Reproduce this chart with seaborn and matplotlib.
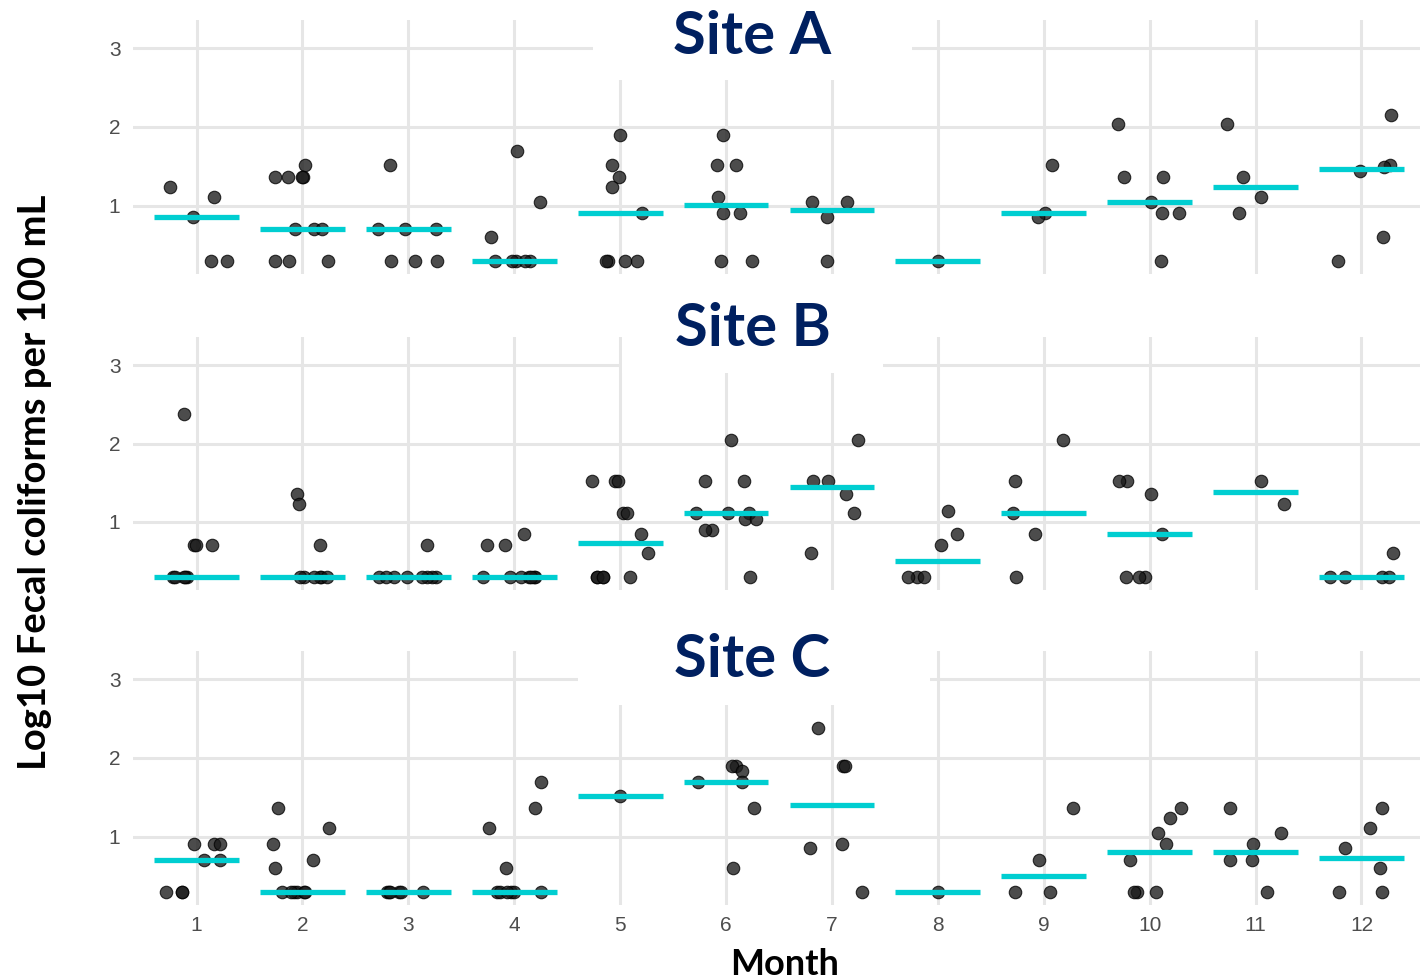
import numpy as np
import pandas as pd
import matplotlib
matplotlib.use("Agg")
import matplotlib.pyplot as plt
from matplotlib.patches import Rectangle
import seaborn as sns

# ---------------- data ----------------
months = [1, 2, 3, 4, 5, 6, 7, 8, 9, 10, 11, 12]
site_names = ["Site A", "Site B", "Site C"]

# log10 fecal coliforms per 100 mL, one list per month
site_a = [
    [1.23, 1.11, 0.85, 0.30, 0.30],
    [1.52, 1.36, 1.36, 1.36, 1.36, 0.70, 0.70, 0.70, 0.30, 0.30, 0.30],
    [1.52, 0.70, 0.70, 0.70, 0.30, 0.30, 0.30],
    [1.69, 1.04, 0.60, 0.30, 0.30, 0.30, 0.30, 0.30],
    [1.90, 1.52, 1.36, 1.23, 0.90, 0.30, 0.30, 0.30, 0.30],
    [1.90, 1.52, 1.52, 1.11, 0.90, 0.90, 0.30, 0.30],
    [1.04, 1.04, 0.85, 0.30],
    [0.30],
    [1.52, 0.90, 0.85],
    [2.04, 1.36, 1.36, 1.04, 0.90, 0.90, 0.30],
    [2.04, 1.36, 1.11, 0.90],
    [2.15, 1.52, 1.49, 1.44, 0.60, 0.30],
]
site_b = [
    [2.38, 0.70, 0.70, 0.70, 0.30, 0.30, 0.30, 0.30, 0.30],
    [1.36, 1.23, 0.70, 0.30, 0.30, 0.30, 0.30, 0.30, 0.30],
    [0.70, 0.30, 0.30, 0.30, 0.30, 0.30, 0.30, 0.30, 0.30],
    [0.85, 0.70, 0.70, 0.30, 0.30, 0.30, 0.30, 0.30, 0.30, 0.30],
    [1.52, 1.52, 1.52, 1.11, 1.11, 0.85, 0.60, 0.30, 0.30, 0.30, 0.30, 0.30],
    [2.04, 1.52, 1.52, 1.11, 1.11, 1.11, 1.04, 1.04, 0.90, 0.90, 0.30],
    [2.04, 1.52, 1.52, 1.36, 1.11, 0.60],
    [1.14, 0.85, 0.70, 0.30, 0.30, 0.30],
    [2.04, 1.52, 1.11, 0.85, 0.30],
    [1.52, 1.52, 1.36, 0.85, 0.30, 0.30, 0.30],
    [1.52, 1.23],
    [0.60, 0.30, 0.30, 0.30, 0.30],
]
site_c = [
    [0.90, 0.90, 0.90, 0.70, 0.70, 0.30, 0.30, 0.30],
    [1.36, 1.11, 0.90, 0.70, 0.60, 0.30, 0.30, 0.30, 0.30, 0.30, 0.30],
    [0.30, 0.30, 0.30, 0.30, 0.30, 0.30],
    [1.69, 1.36, 1.11, 0.60, 0.30, 0.30, 0.30, 0.30, 0.30, 0.30],
    [1.52],
    [1.90, 1.90, 1.84, 1.69, 1.69, 1.36, 0.60],
    [2.38, 1.90, 1.90, 0.90, 0.85, 0.30],
    [0.30],
    [1.36, 0.70, 0.30, 0.30],
    [1.36, 1.23, 1.04, 0.90, 0.70, 0.30, 0.30, 0.30],
    [1.36, 1.04, 0.90, 0.70, 0.70, 0.30],
    [1.36, 1.11, 0.85, 0.60, 0.30, 0.30],
]
y_ticks = [1, 2, 3]
x_label = "Month"
y_label = "Log10 Fecal coliforms per 100 mL"

# ---------------- style ----------------
sns.set_theme(style="white")
plt.rcParams["font.family"] = ["Liberation Sans", "DejaVu Sans"]
np.random.seed(7)

W, H = 1420, 980
fig = plt.figure(figsize=(W / 100, H / 100), dpi=100)

title_color = "#002060"
tick_color = "#4D4D4D"
grid_color = "#E6E6E6"
point_color = "#1a1a1a"
median_color = "#00CED1"

# panel pixel extents (top, bottom)
panel_px = [(20, 274), (337, 590), (651, 905)]
left_px, right_px = 133, 1425

# title boxes (x0, x1, y0, y1) and baselines in pixels
title_boxes = [(593, 912, 0, 80), (622, 883, 290, 373), (578, 930, 612, 705)]
title_base = [54, 346, 677]

order = [str(m) for m in months]
sites = [site_a, site_b, site_c]

for i, (name, data) in enumerate(zip(site_names, sites)):
    top, bot = panel_px[i]
    ax = fig.add_axes([left_px / W, 1 - bot / H, (right_px - left_px) / W, (bot - top) / H])
    rows = []
    for m, vals in zip(months, data):
        for v in vals:
            rows.append((str(m), v))
    df = pd.DataFrame(rows, columns=["month", "value"])

    sns.stripplot(data=df, x="month", y="value", order=order, jitter=0.3,
                  size=9, color=point_color, alpha=0.78, linewidth=0.8,
                  edgecolor="black", ax=ax, zorder=3)
    sns.boxplot(data=df, x="month", y="value", order=order, width=0.8,
                showbox=False, showcaps=False, showfliers=False,
                whiskerprops={"visible": False},
                medianprops={"color": median_color, "linewidth": 3.8,
                             "solid_capstyle": "butt", "zorder": 4},
                ax=ax)

    ax.set_xlim(-0.6, 11.6)
    ax.set_ylim(0.13, 3.36)
    ax.set_yticks(y_ticks)
    ax.set_yticklabels([str(t) for t in y_ticks])
    ax.set_xlabel("")
    ax.set_ylabel("")
    ax.grid(True, color=grid_color, linewidth=2.2)
    ax.set_axisbelow(True)
    for s in ax.spines.values():
        s.set_visible(False)
    ax.tick_params(axis="both", length=0, labelsize=15, labelcolor=tick_color, pad=9)
    if i < 2:
        ax.tick_params(axis="x", labelbottom=False)
    else:
        ax.tick_params(axis="x", pad=8)

    # title box
    x0, x1, y0, y1 = title_boxes[i]
    fig.add_artist(Rectangle((x0 / W, 1 - y1 / H), (x1 - x0) / W, (y1 - y0) / H,
                             transform=fig.transFigure, facecolor="white",
                             edgecolor="none", zorder=10))
    fig.text(752.5 / W, 1 - title_base[i] / H, name, ha="center", va="baseline",
             fontsize=43, fontweight="bold", color=title_color,
             family=["Lato", "DejaVu Sans"], zorder=11)

fig.text(35 / W, 1 - 482 / H, y_label, rotation=90, ha="center", va="center",
         fontsize=27.5, fontweight="bold", color="black", family=["Lato", "DejaVu Sans"])
fig.text(785 / W, 1 - 975 / H, x_label, ha="center", va="baseline",
         fontsize=26, fontweight="bold", color="black", family=["Lato", "DejaVu Sans"])

fig.savefig("out.png", dpi=100)
